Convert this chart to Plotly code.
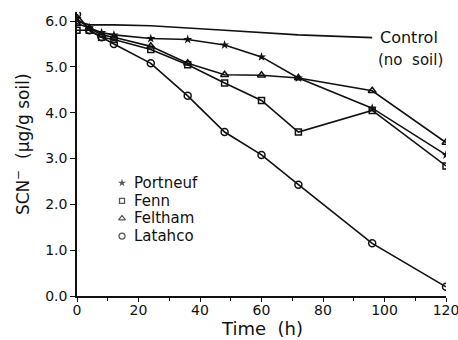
import plotly.graph_objects as go

time_h = [0, 4, 8, 12, 24, 36, 48, 60, 72, 96, 120]
portneuf = [6.05, 5.85, 5.75, 5.70, 5.62, 5.60, 5.48, 5.22, 4.76, 4.10, 3.08]
fenn = [5.80, 5.80, 5.65, 5.60, 5.38, 5.05, 4.65, 4.27, 3.58, 4.05, 2.84]
feltham = [5.95, 5.85, 5.70, 5.65, 5.45, 5.08, 4.83, 4.82, 4.76, 4.48, 3.35]
latahco = [6.15, 5.80, 5.65, 5.50, 5.08, 4.37, 3.58, 3.08, 2.43, 1.15, 0.20]
control_t = [0, 4, 12, 24, 48, 72, 96]
control = [6.00, 5.92, 5.92, 5.90, 5.80, 5.70, 5.64]

soil_names = ["Portneuf", "Fenn", "Feltham", "Latahco"]
x_ticks = [0, 20, 40, 60, 80, 100, 120]
y_ticks = [0.0, 1.0, 2.0, 3.0, 4.0, 5.0, 6.0]

FONT = "DejaVu Sans"
INK = "#111111"

symbols = ["star", "square-open", "triangle-up-open", "circle-open"]
sizes = [7, 6, 7, 7]

fig = go.Figure()

fig.add_trace(go.Scatter(x=control_t, y=control, mode="lines",
                         line=dict(color=INK, width=1.6), showlegend=False))

for name, vals, sym, sz in zip(soil_names, [portneuf, fenn, feltham, latahco], symbols, sizes):
    fig.add_trace(go.Scatter(x=time_h, y=vals, mode="lines+markers", name=name,
                             line=dict(color=INK, width=1.6),
                             marker=dict(symbol=sym, size=sz, color=INK,
                                         line=dict(width=0 if sym == "star" else 1.5)),
                             showlegend=False))

# hand-placed key (legend) on a hidden overlay axis in 0..1 units
key_x = 0.122
key_text_x = 0.150
key_y = [0.398, 0.335, 0.273, 0.211]
fig.add_trace(go.Scatter(x=[key_x] * 4, y=key_y, mode="markers", xaxis="x2", yaxis="y2",
                         marker=dict(symbol=symbols, size=[s - 1 for s in sizes], color=INK,
                                     line=dict(width=[0, 1.3, 1.3, 1.3])),
                         showlegend=False, hoverinfo="skip"))
for name, ky in zip(soil_names, key_y):
    fig.add_annotation(x=key_text_x, y=ky, xref="paper", yref="paper", xanchor="left",
                       yanchor="middle", text=name, showarrow=False,
                       font=dict(family=FONT, size=15, color=INK))

fig.add_annotation(x=98, y=5.65, xref="x", yref="y", xanchor="left", yanchor="middle",
                   text="Control", showarrow=False, align="left",
                   font=dict(family=FONT, size=16, color=INK))
fig.add_annotation(x=97.2, y=5.15, xref="x", yref="y", xanchor="left", yanchor="middle",
                   text="(no  soil)", showarrow=False, align="left",
                   font=dict(family=FONT, size=15, color=INK))

# axis titles
fig.add_annotation(x=0.5, y=-0.113, xref="paper", yref="paper", xanchor="center",
                   yanchor="middle", text="Time  (h)", showarrow=False,
                   font=dict(family=FONT, size=18, color=INK))
fig.add_annotation(x=-0.149, y=0.535, xref="paper", yref="paper", xanchor="center",
                   yanchor="middle", text="SCN<sup>−</sup>  (μg/g soil)", showarrow=False,
                   textangle=-90, font=dict(family=FONT, size=17, color=INK))

fig.update_layout(
    width=458, height=340,
    margin=dict(l=77, r=12, t=12, b=44),
    paper_bgcolor="white", plot_bgcolor="white",
    font=dict(family=FONT, color=INK, size=13),
    showlegend=False,
    xaxis=dict(range=[0, 120], tickvals=x_ticks, ticktext=[str(v) for v in x_ticks],
               automargin=False, showgrid=False, zeroline=False, showline=True,
               linecolor=INK, linewidth=1.5, ticks="outside", ticklen=4, tickwidth=1.3,
               tickcolor=INK, ticklabeloverflow="allow", ticklabelstandoff=-4,
               minor=dict(tickvals=[10, 30, 50, 70, 90, 110], ticks="outside", ticklen=3,
                          tickwidth=1.2, tickcolor=INK),
               tickfont=dict(family=FONT, size=14, color=INK)),
    yaxis=dict(range=[0, 6.2], tickvals=y_ticks, ticktext=[f"{v:.1f}" for v in y_ticks],
               automargin=False, showgrid=False, zeroline=False, showline=True,
               linecolor=INK, linewidth=1.5, ticks="outside", ticklen=5, tickwidth=1.3,
               tickcolor=INK, tickfont=dict(family=FONT, size=14, color=INK)),
    xaxis2=dict(overlaying="x", range=[0, 1], visible=False, anchor="y2"),
    yaxis2=dict(overlaying="y", range=[0, 1], visible=False, anchor="x2"),
)

fig.write_html("out.html")
